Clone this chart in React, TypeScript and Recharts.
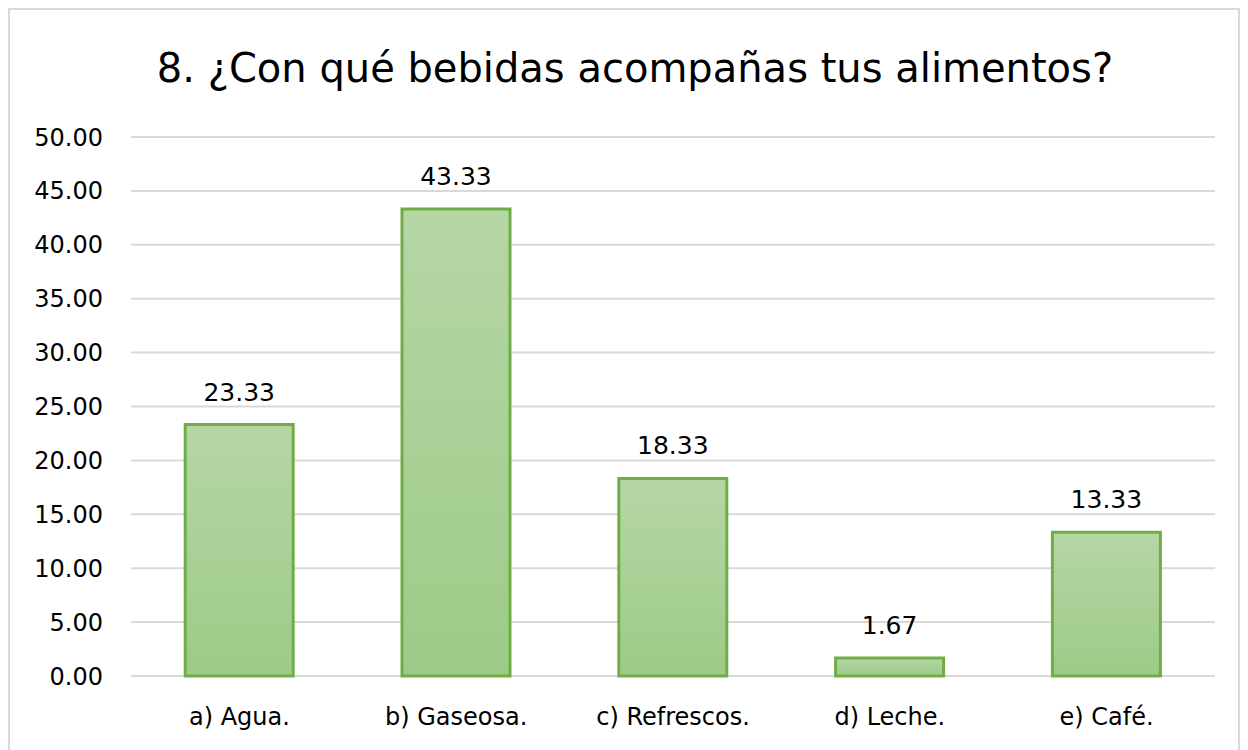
import { BarChart, Bar, XAxis, YAxis, CartesianGrid, LabelList } from 'recharts'

const categories = ['a) Agua.', 'b) Gaseosa.', 'c) Refrescos.', 'd) Leche.', 'e) Café.']
const values = [23.33, 43.33, 18.33, 1.67, 13.33]
const yTicks = [0, 5, 10, 15, 20, 25, 30, 35, 40, 45, 50]

const data = categories.map((name, i) => ({ name, value: values[i] }))

const FONT = '"DejaVu Sans", Verdana, sans-serif'

const App = () => {
    return (
        <div
            style={{
                position: 'relative',
                width: 1228,
                height: 750,
                border: '2px solid #d9d9d9',
                background: '#fff',
                fontFamily: FONT,
            }}
        >
            <div
                style={{
                    position: 'absolute',
                    top: 36,
                    left: 11,
                    width: 1228,
                    textAlign: 'center',
                    fontSize: 40,
                    lineHeight: '44px',
                    color: '#000',
                    whiteSpace: 'nowrap',
                }}
            >
                8. ¿Con qué bebidas acompañas tus alimentos?
            </div>
            <BarChart
                width={1228}
                height={740}
                data={data}
                margin={{ top: 127, right: 23, bottom: 44, left: 0 }}
                barCategoryGap="25%"
            >
                <defs>
                    <linearGradient id="barFill" x1="0" y1="0" x2="0" y2="1">
                        <stop offset="0%" stopColor="#b6d6a6" />
                        <stop offset="100%" stopColor="#9dcb87" />
                    </linearGradient>
                </defs>
                <CartesianGrid vertical={false} stroke="#d9d9d9" strokeWidth={2} />
                <XAxis
                    dataKey="name"
                    axisLine={false}
                    tickLine={false}
                    tickMargin={26}
                    height={30}
                    tick={{ fill: '#000', fontSize: 24, fontFamily: FONT }}
                />
                <YAxis
                    domain={[0, 50]}
                    ticks={yTicks}
                    axisLine={false}
                    tickLine={false}
                    tickMargin={22}
                    width={121}
                    tickFormatter={(v: number) => v.toFixed(2)}
                    tick={{ fill: '#000', fontSize: 24, fontFamily: FONT }}
                />
                <Bar
                    dataKey="value"
                    fill="url(#barFill)"
                    stroke="#70ad47"
                    strokeWidth={3}
                    isAnimationActive={false}
                >
                    <LabelList
                        dataKey="value"
                        position="top"
                        offset={24}
                        formatter={(v: any) => Number(v).toFixed(2)}
                        style={{ fill: '#000', fontSize: 25, fontFamily: FONT }}
                    />
                </Bar>
            </BarChart>
        </div>
    )
}

export default App
